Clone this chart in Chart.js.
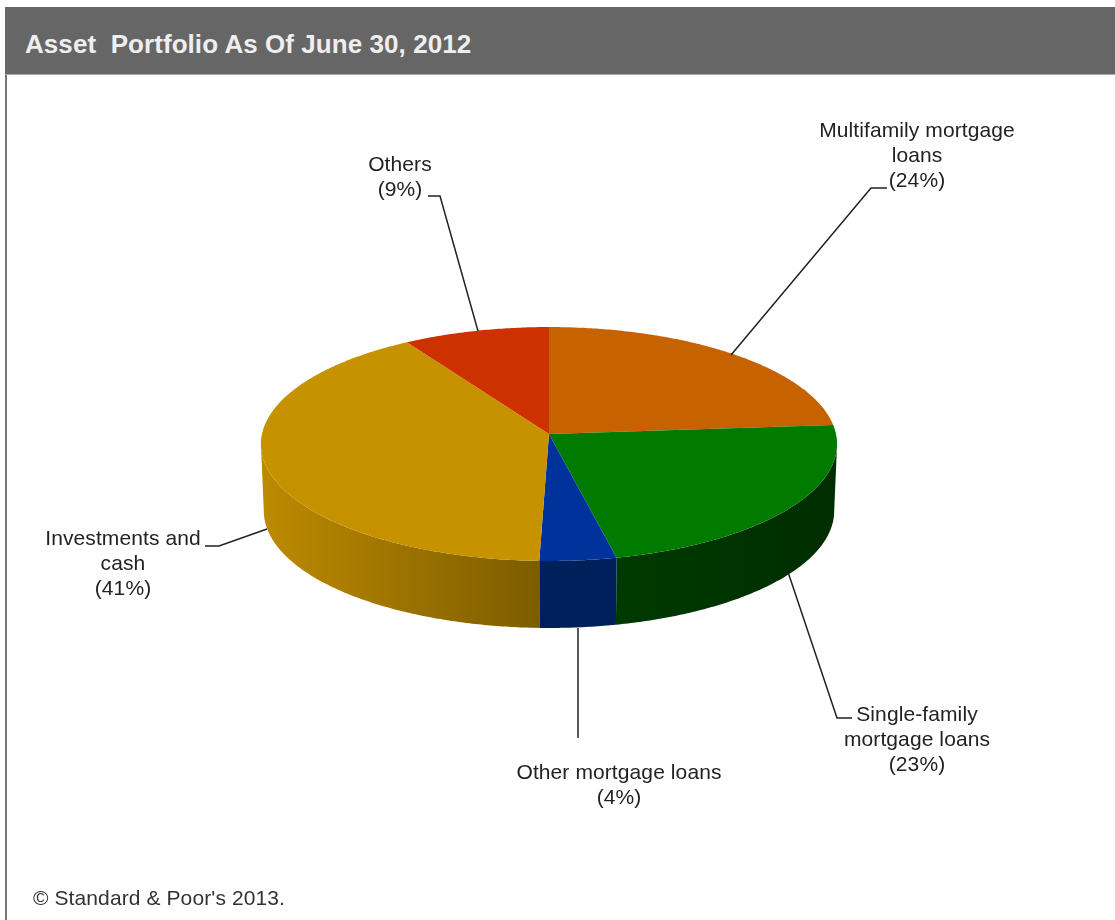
<!DOCTYPE html>
<html>
<head>
<meta charset="utf-8">
<title>Asset Portfolio As Of June 30, 2012</title>
<script src="https://cdn.jsdelivr.net/npm/chart.js@4"></script>
<style>
    html, body { margin: 0; padding: 0; background: #fff; overflow: hidden; }
    #page { position: relative; width: 1115px; height: 920px; font-family: "Liberation Sans", Arial, sans-serif; }
    #bar { position: absolute; left: 5px; top: 7px; width: 1110px; height: 68px; background: #666; border-bottom: 1px solid #aaa; box-sizing: border-box; }
    #bar span { position: absolute; left: 20px; top: 22px; color: #eee; font-size: 26px; line-height: 30px; font-weight: bold; letter-spacing: 0.06px; white-space: nowrap; }
    #rule { position: absolute; left: 5px; top: 75px; width: 2px; height: 845px; background: #777; }
    #source { position: absolute; left: 33px; top: 887px; font-size: 21px; line-height: 22px; letter-spacing: 0.1px; color: #333; white-space: nowrap; }
    canvas { position: absolute; left: 0; top: 0; }
</style>
</head>
<body>
<div id="page">
    <canvas id="chart" width="1115" height="920"></canvas>
    <div id="bar"><span>Asset&nbsp; Portfolio As Of June 30, 2012</span></div>
    <div id="rule"></div>
    <div id="source">© Standard &amp; Poor's 2013.</div>
</div>
<script>
const categories = [
    ['Multifamily mortgage', 'loans'],
    ['Single-family', 'mortgage loans'],
    ['Other mortgage loans'],
    ['Investments and', 'cash'],
    ['Others']
];
const shares = [24, 23, 4, 41, 9];
const topColors = ['#c66300', '#007b00', '#00329c', '#c69200', '#ce3100'];
const wallStart = ['#8a4500', '#003a00', '#00205c', '#bd8b00', '#8a2200'];
const wallEnd = ['#8a4500', '#002d00', '#00205c', '#7d5c00', '#8a2200'];

// label placement and leader lines, one entry per category
const labelCenters = [[917, 131], [917, 715], [619, 773], [123, 539], [400, 165]];
const leaders = [
    [[731, 355], [871, 188], [887, 188]],
    [[788, 572], [837, 718], [852, 718]],
    [[578, 628], [578, 738]],
    [[267, 529], [219, 546], [205, 546]],
    [[478, 331], [440, 196], [428, 196]]
];

// tilted disc: circle projected with a little perspective
const disc = { x: 549, y: 434, rx: 287, ry: 116.1, k: 0.0855, depth: 67, baseScale: 0.99 };

function project(theta) {
    const u = Math.sin(theta);
    const v = -Math.cos(theta);
    const w = 1 - disc.k * v;
    return { x: disc.x + disc.rx * u / w, y: disc.y + disc.ry * v / w, v: v };
}

function edgePoints(start, end) {
    const steps = Math.max(2, Math.ceil((end - start) / 0.01));
    const pts = [];
    for (let i = 0; i <= steps; i++) {
        pts.push(project(start + (end - start) * i / steps));
    }
    return pts;
}

const pie3d = {
    id: 'pie3d',
    // the library lays out the arcs, this draws them as a tilted disc
    beforeDatasetDraw(chart, args) {
        const ctx = chart.ctx;
        const arcs = chart.getDatasetMeta(args.index).data.map(arc => {
            const a = arc.getProps(['startAngle', 'endAngle'], true);
            return edgePoints(a.startAngle + Math.PI / 2, a.endAngle + Math.PI / 2);
        });

        ctx.save();
        arcs.forEach((pts, i) => {
            // only the part of the rim facing the viewer has a wall
            const front = pts.filter(p => p.v >= disc.k);
            if (front.length < 2) return;
            const xs = front.map(p => p.x);
            const fill = ctx.createLinearGradient(Math.min(...xs), 0, Math.max(...xs), 0);
            fill.addColorStop(0, wallStart[i]);
            fill.addColorStop(1, wallEnd[i]);
            ctx.fillStyle = fill;
            ctx.beginPath();
            front.forEach((p, j) => j ? ctx.lineTo(p.x, p.y) : ctx.moveTo(p.x, p.y));
            front.slice().reverse().forEach(p => {
                ctx.lineTo(disc.x + (p.x - disc.x) * disc.baseScale, p.y + disc.depth);
            });
            ctx.closePath();
            ctx.fill();
        });
        arcs.forEach((pts, i) => {
            ctx.fillStyle = topColors[i];
            ctx.beginPath();
            ctx.moveTo(disc.x, disc.y);
            pts.forEach(p => ctx.lineTo(p.x, p.y));
            ctx.closePath();
            ctx.fill();
        });
        ctx.restore();
        return false;
    },
    afterDraw(chart) {
        const ctx = chart.ctx;
        ctx.save();
        ctx.strokeStyle = '#222';
        ctx.lineWidth = 1.5;
        leaders.forEach(line => {
            ctx.beginPath();
            line.forEach((p, j) => j ? ctx.lineTo(p[0], p[1]) : ctx.moveTo(p[0], p[1]));
            ctx.stroke();
        });
        ctx.fillStyle = '#222';
        ctx.font = '21px "Liberation Sans", Arial, sans-serif';
        ctx.letterSpacing = '0.1px';
        ctx.textAlign = 'center';
        ctx.textBaseline = 'middle';
        categories.forEach((lines, i) => {
            const rows = lines.concat(`(${shares[i]}%)`);
            rows.forEach((row, j) => {
                ctx.fillText(row, labelCenters[i][0], labelCenters[i][1] + j * 25);
            });
        });
        ctx.restore();
    }
};

new Chart(document.getElementById('chart'), {
    type: 'pie',
    data: {
        labels: categories.map(lines => lines.join(' ')),
        datasets: [{
            data: shares,
            backgroundColor: topColors,
            borderWidth: 0
        }]
    },
    options: {
        responsive: false,
        animation: false,
        events: [],
        plugins: {
            legend: { display: false },
            tooltip: { enabled: false }
        }
    },
    plugins: [pie3d]
});
</script>
</body>
</html>
